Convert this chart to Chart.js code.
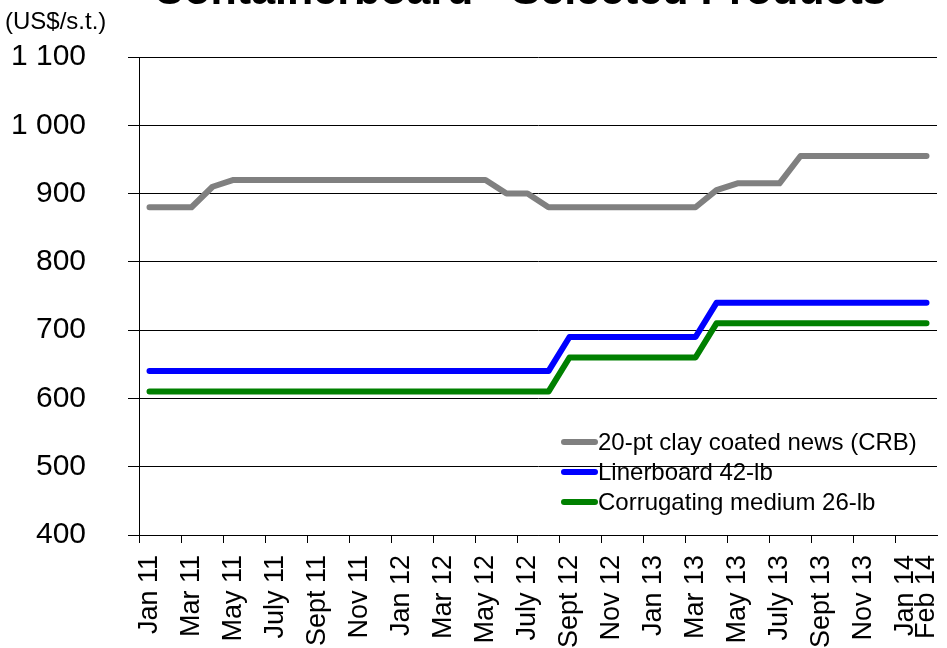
<!DOCTYPE html>
<html>
<head>
<meta charset="utf-8">
<title>Containerboard - Selected Products</title>
<script src="https://cdn.jsdelivr.net/npm/chart.js@4.4.1/dist/chart.umd.min.js"></script>
<style>
  html, body { margin: 0; padding: 0; background: #fff; }
  #chart1 { display: block; }
</style>
</head>
<body>
<canvas id="chart1" width="947" height="648"></canvas>
<script>
// monthly, Jan 11 .. Feb 14
const months = [
  'Jan 11', 'Feb 11', 'Mar 11', 'Apr 11', 'May 11', 'June 11', 'July 11', 'Aug 11', 'Sept 11', 'Oct 11', 'Nov 11', 'Dec 11',
  'Jan 12', 'Feb 12', 'Mar 12', 'Apr 12', 'May 12', 'June 12', 'July 12', 'Aug 12', 'Sept 12', 'Oct 12', 'Nov 12', 'Dec 12',
  'Jan 13', 'Feb 13', 'Mar 13', 'Apr 13', 'May 13', 'June 13', 'July 13', 'Aug 13', 'Sept 13', 'Oct 13', 'Nov 13', 'Dec 13',
  'Jan 14', 'Feb 14'
];
// labels actually shown under the axis
const shownLabels = [
  'Jan 11', 'Mar 11', 'May 11', 'July 11', 'Sept 11', 'Nov 11',
  'Jan 12', 'Mar 12', 'May 12', 'July 12', 'Sept 12', 'Nov 12',
  'Jan 13', 'Mar 13', 'May 13', 'July 13', 'Sept 13', 'Nov 13',
  'Jan 14', 'Feb 14'
];

const clayCoated = [
  880, 880, 880, 910, 920, 920, 920, 920, 920, 920, 920, 920,
  920, 920, 920, 920, 920, 900, 900, 880, 880, 880, 880, 880,
  880, 880, 880, 905, 915, 915, 915, 955, 955, 955, 955, 955,
  955, 955
];
const linerboard = [
  640, 640, 640, 640, 640, 640, 640, 640, 640, 640, 640, 640,
  640, 640, 640, 640, 640, 640, 640, 640, 690, 690, 690, 690,
  690, 690, 690, 740, 740, 740, 740, 740, 740, 740, 740, 740,
  740, 740
];
const medium = [
  610, 610, 610, 610, 610, 610, 610, 610, 610, 610, 610, 610,
  610, 610, 610, 610, 610, 610, 610, 610, 660, 660, 660, 660,
  660, 660, 660, 710, 710, 710, 710, 710, 710, 710, 710, 710,
  710, 710
];

const yMin = 400, yMax = 1100, yStep = 100;

Chart.defaults.font.family = "'Liberation Sans', Arial, sans-serif";
Chart.defaults.color = '#000';

function spaced(v) {
  return String(v).replace(/\B(?=(\d{3})+(?!\d))/g, ' ');
}

// title, unit and the in-plot legend
const decorations = {
  id: 'decorations',
  afterDraw(chart) {
    const c = chart.ctx;
    c.save();
    c.fillStyle = '#000';
    c.font = "bold 43px 'Liberation Sans', Arial, sans-serif";
    c.textAlign = 'center';
    c.textBaseline = 'alphabetic';
    c.fillText('Containerboard - Selected Products', 520, 4);

    c.font = "24px 'Liberation Sans', Arial, sans-serif";
    c.textAlign = 'left';
    c.fillText('(US$/s.t.)', 5, 29);

    c.font = "24px 'Liberation Sans', Arial, sans-serif";
    c.textBaseline = 'middle';
    chart.data.datasets.forEach(function(ds, i) {
      const y = 442 + i * 30;
      c.strokeStyle = ds.borderColor;
      c.lineWidth = 6;
      c.lineCap = 'round';
      c.beginPath();
      c.moveTo(564, y);
      c.lineTo(595, y);
      c.stroke();
      c.fillText(ds.label, 598, y + 1);
    });
    c.restore();
  }
};

new Chart(document.getElementById('chart1'), {
  type: 'line',
  data: {
    labels: months,
    datasets: [
      { label: '20-pt clay coated news (CRB)', data: clayCoated, borderColor: '#808080' },
      { label: 'Linerboard 42-lb', data: linerboard, borderColor: '#0000ff' },
      { label: 'Corrugating medium 26-lb', data: medium, borderColor: '#008000' }
    ]
  },
  options: {
    responsive: false,
    animation: false,
    layout: { padding: { top: 57, right: 10, left: 0, bottom: 0 } },
    elements: {
      line: { borderWidth: 6, tension: 0, borderCapStyle: 'round', borderJoinStyle: 'round' },
      point: { radius: 0 }
    },
    plugins: {
      legend: { display: false },
      tooltip: { enabled: false },
      title: { display: false }
    },
    scales: {
      x: {
        offset: true,
        afterFit(scale) {
          scale.height = 113;
          scale.paddingLeft = 0;
          scale.paddingRight = 0;
        },
        border: { color: '#000', width: 1 },
        grid: {
          offset: true,
          drawOnChartArea: false,
          tickLength: 8,
          color: function(ctx) { return ctx.index % 2 === 0 ? '#000' : 'rgba(0,0,0,0)'; }
        },
        ticks: {
          autoSkip: false,
          maxRotation: 90,
          minRotation: 90,
          padding: 12,
          font: { size: 27 },
          callback: function(v, i) {
            const m = months[i];
            return shownLabels.indexOf(m) >= 0 ? m : '';
          }
        }
      },
      y: {
        min: yMin,
        max: yMax,
        afterFit(scale) {
          scale.width = 139;
          scale.paddingTop = 0;
          scale.paddingBottom = 0;
        },
        border: { color: '#000', width: 1 },
        grid: { color: '#000', lineWidth: 1, tickLength: 11 },
        ticks: {
          stepSize: yStep,
          padding: 42,
          font: { size: 30 },
          callback: function(v) { return spaced(v); }
        }
      }
    }
  },
  plugins: [decorations]
});
</script>
</body>
</html>
